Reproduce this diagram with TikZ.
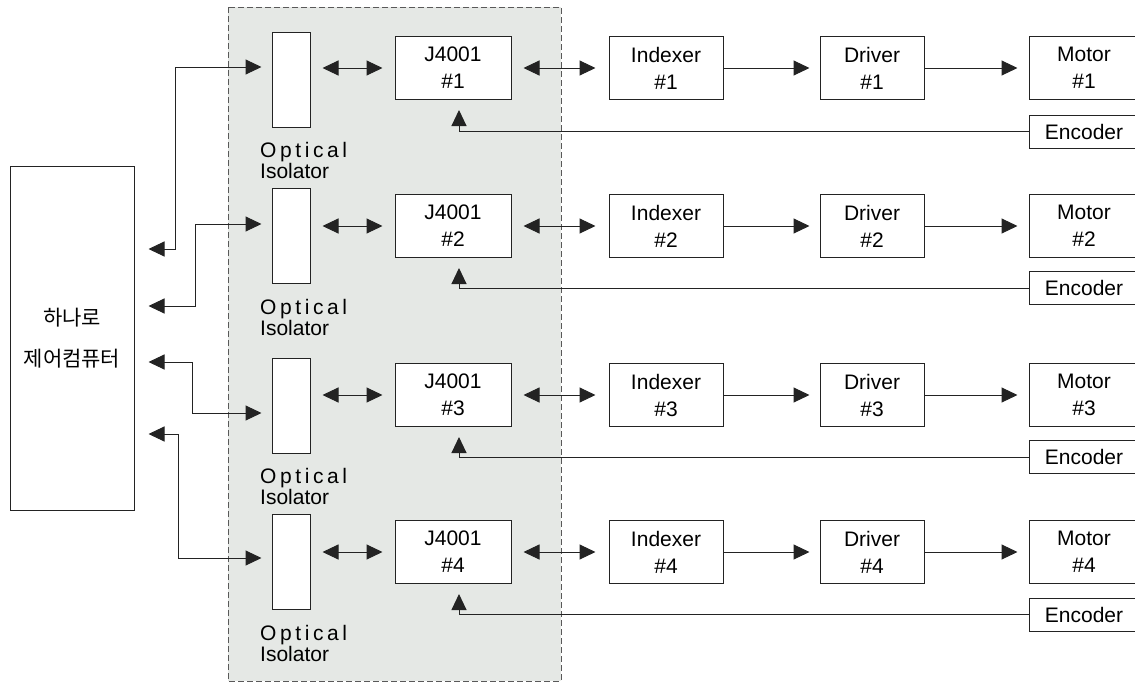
\documentclass[tikz,border=0pt]{standalone}
\usepackage{fontspec}
\setmainfont{Liberation Sans}
\newfontfamily\hangul{Noto Sans CJK KR}
\usetikzlibrary{arrows.meta}
\definecolor{zonefill}{RGB}{229,232,229}
\definecolor{lineclr}{RGB}{35,35,35}

% letter-spaced first word of the isolator caption
\newcommand\OpticalText{O\kern3.6pt p\kern3.6pt t\kern3.6pt i\kern3.6pt c\kern3.6pt a\kern3.6pt l}

\tikzset{
  base/.style={draw=lineclr, line width=1pt, inner sep=0pt, align=center,
               font=\fontsize{21}{27}\selectfont},
  unit/.style={base, fill=white, minimum height=63pt, text depth=-4pt},
  isobox/.style={base, fill=white, minimum width=38pt, minimum height=95pt},
  enc/.style={base, fill=white, minimum width=110pt, minimum height=33pt},
  isolabel/.style={inner sep=0pt, align=left, anchor=north west,
                   font=\fontsize{21}{21}\selectfont},
  link/.style={draw=lineclr, line width=1pt, -{Triangle[length=16pt,width=15pt]}},
  dlink/.style={link, {Triangle[length=16pt,width=15pt]}-{Triangle[length=16pt,width=15pt]}},
}

\begin{document}
\begin{tikzpicture}[x=1pt,y=-1pt]
\useasboundingbox (0,0) rectangle (1135,683);
\clip (0,0) rectangle (1135,683);

% isolated interface zone
\draw[draw=black!65, fill=zonefill, dash pattern=on 6pt off 3pt, line width=1pt]
  (228,7) rectangle (561,681);

% control computer
\node[base, minimum width=124pt, minimum height=344pt,
      font=\hangul\fontsize{21}{41}\selectfont] (ctrl) at (72,338) {하나로\\제어컴퓨터};

% one channel per row
\foreach \i/\r/\io/\e in {1/68/79.5/131.5, 2/226/236/288, 3/395/405.5/457, 4/552/562/614.5}{
  \node[isobox] (iso\i) at (291,\io) {};
  \node[isolabel] (lbl\i) at ([xshift=-31pt,yshift=-15pt]iso\i.south) {\OpticalText\\Isolator};
  \node[unit, minimum width=116pt] (jc\i) at (453,\r) {J4001\\\#\i};
  \node[unit, minimum width=114pt] (ix\i) at (666,\r) {Indexer\\\#\i};
  \node[unit, minimum width=104pt] (dv\i) at (872,\r) {Driver\\\#\i};
  \node[unit, minimum width=110pt] (mt\i) at (1084,\r) {Motor\\\#\i};
  \node[enc] (ec\i) at (1084,\e) {Encoder};

  \draw[dlink, shorten <=12pt, shorten >=12pt] (iso\i.east |- jc\i.west) -- (jc\i.west);
  \draw[dlink, shorten <=12pt, shorten >=13pt] (jc\i.east) -- (ix\i.west);
  \draw[link, shorten >=10pt] (ix\i.east) -- (dv\i.west);
  \draw[link, shorten >=11pt] (dv\i.east) -- (mt\i.west);
  \draw[link, shorten >=10pt] (ec\i.west) -| ([xshift=6pt]jc\i.south);
}

% computer <-> isolator links
\foreach \i/\a/\b/\vx in {1/249/67/175, 2/306/224/195, 3/362/413/192, 4/434/558/178}{
  \draw[dlink, shorten <=14pt, shorten >=10pt]
    (ctrl.east |- 0,\a) -- (\vx,\a) -- (\vx,\b) -- (iso\i.west |- 0,\b);
}
\end{tikzpicture}
\end{document}
